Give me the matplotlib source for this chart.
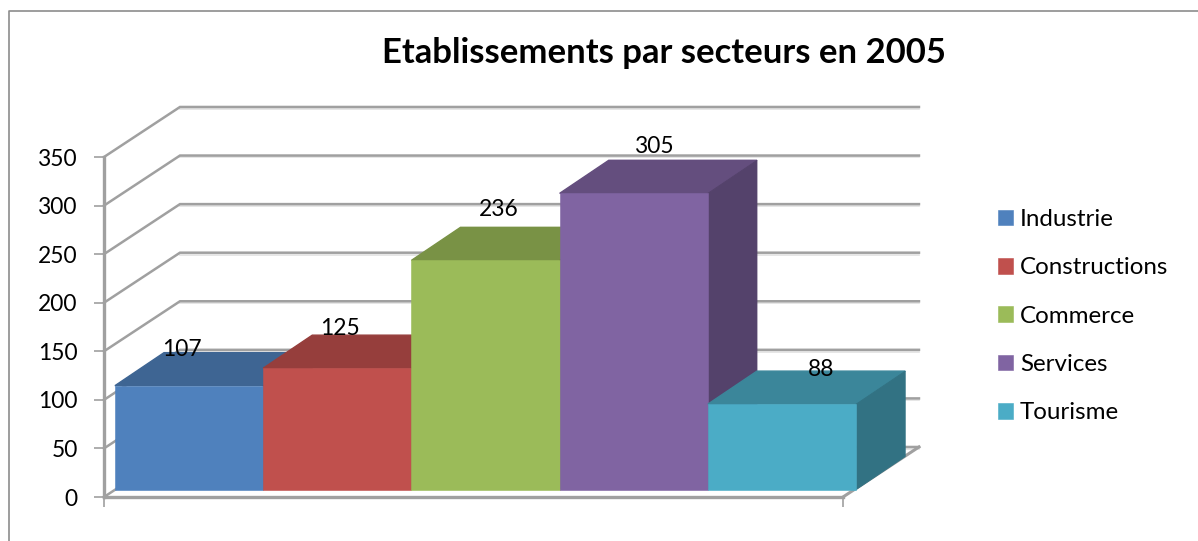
import numpy as np
import matplotlib.pyplot as plt
from matplotlib.colors import to_rgb
from matplotlib.lines import Line2D

plt.rcParams['font.family'] = ['Lato', 'DejaVu Sans']

categories = ['Industrie', 'Constructions', 'Commerce', 'Services', 'Tourisme']
values = [107, 125, 236, 305, 88]
colors = ['#4F81BD', '#C0504D', '#9BBB59', '#8064A2', '#4BACC6']
y_ticks = [0, 50, 100, 150, 200, 250, 300, 350]

W, H = 1198, 541
GREY = '#a0a0a0'
LIGHT = '#e2e2e2'
# 3d look: how far the back wall and the bars are shifted, in data units
wall_dx, wall_dy = 0.514, 51.5
bar_x0, bar_y0 = 0.074, 7.6
bar_w = 1.003
bar_dx, bar_dy = 0.332, 34.0
# label shift from front top centre of the bar, in pixels
label_shift = [(-7, 36), (3, 40), (13, 51), (21, 47), (39, 35)]


def shade(col, f):
    return tuple(c * f for c in to_rgb(col))


fig = plt.figure(figsize=(W / 100, H / 100), dpi=100)
ax = fig.add_axes([104 / W, (H - 497) / H, 739 / W, 340 / H])
ax.set_xlim(0, 5)
ax.set_ylim(0, 350)
ax.patch.set_alpha(0)

# gridlines on the back wall and the slanted part on the side wall
for v in y_ticks:
    ax.plot([0, wall_dx, 5 + wall_dx], [v, v + wall_dy, v + wall_dy],
            color=GREY, lw=1.8, clip_on=False, zorder=1, solid_joinstyle='miter')
    ax.plot([wall_dx, 5 + wall_dx], [v + wall_dy - 2, v + wall_dy - 2],
            color=LIGHT, lw=1.2, clip_on=False, zorder=0.9)
ax.plot([5, 5 + wall_dx], [0, wall_dy], color=GREY, lw=2.2, clip_on=False, zorder=1)

# left to right so each bar covers the side of the previous one
x = np.arange(5)
for i, (v, c, name) in enumerate(zip(values, colors, categories)):
    x0 = bar_x0 + x[i] * bar_w
    x1 = x0 + bar_w
    top = v + bar_y0
    zo = 3 + i
    ax.bar(x0, v, width=bar_w, bottom=bar_y0, align='edge', color=c, edgecolor=c,
           linewidth=0.4, zorder=zo + 0.2, label=name, clip_on=False)
    ax.fill([x0, x1, x1 + bar_dx, x0 + bar_dx],
            [top, top, top + bar_dy, top + bar_dy],
            color=shade(c, 0.78), lw=1, clip_on=False, zorder=zo)
    ax.fill([x1, x1 + bar_dx, x1 + bar_dx, x1],
            [bar_y0, bar_y0 + bar_dy, top + bar_dy, top],
            color=shade(c, 0.66), lw=0.6, clip_on=False, zorder=zo)
    ax.annotate(str(v), ((x0 + x1) / 2, top), xytext=(label_shift[i][0] * 0.72, label_shift[i][1] * 0.72),
                textcoords='offset points', ha='center', va='center',
                fontsize=16.4, color='black', zorder=20, annotation_clip=False)

for s in ['top', 'right']:
    ax.spines[s].set_visible(False)
for s in ['left', 'bottom']:
    ax.spines[s].set_color(GREY)
    ax.spines[s].set_linewidth(2.4)

ax.set_yticks(y_ticks)
ax.set_xticks([0, 5])
ax.set_xticklabels(['', ''])
ax.tick_params(axis='both', length=7, width=1.2, color=GREY, labelsize=16.4, pad=12)

ax.legend(loc='upper left', bbox_to_anchor=(998 / W, (H - 209) / H),
          bbox_transform=fig.transFigure, frameon=False, fontsize=17.4,
          handlelength=0.62, handleheight=0.62, handletextpad=0.29,
          labelspacing=1.13, borderpad=0, borderaxespad=0)

fig.text(664 / W, (H - 53) / H, 'Etablissements par secteurs en 2005',
         ha='center', va='center', fontsize=24.9, fontweight='bold')

# chart frame, only left and top show in the picture
fig.add_artist(Line2D([9 / W, 9 / W, 1], [0, (H - 11) / H, (H - 11) / H],
                      color='#8c8c8c', lw=1.2, transform=fig.transFigure))

fig.savefig('out.png', dpi=100)
